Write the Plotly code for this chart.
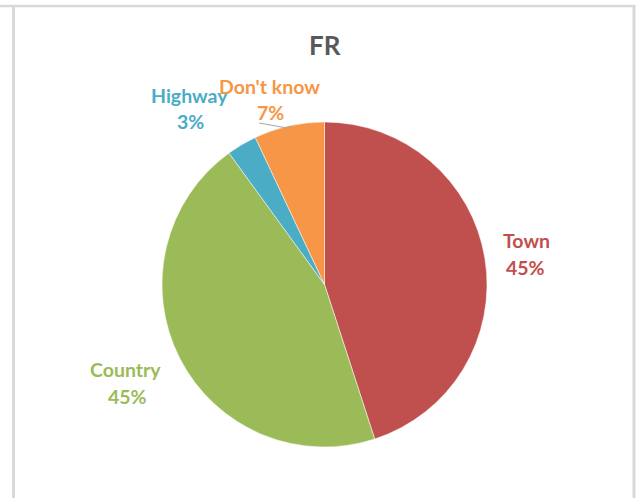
import plotly.graph_objects as go

# Data
categories = ["Town", "Country", "Highway", "Don't know"]
values = [45, 45, 3, 7]
colors = ["#C0504D", "#9BBB59", "#4BACC6", "#F79646"]
title_text = "FR"

W, H = 639, 498

def px(x):
    return x / W

def py(y):
    return 1 - y / H

# pie geometry (pixels)
cx, cy, r = 324.5, 284.5, 162.5

fig = go.Figure()
fig.add_trace(go.Pie(
    labels=categories,
    values=values,
    sort=False,
    direction="clockwise",
    rotation=0,
    marker=dict(colors=colors, line=dict(color="white", width=0.5)),
    textinfo="none",
    hoverinfo="label+percent",
    showlegend=False,
    domain=dict(x=[px(cx - r), px(cx + r)], y=[py(cy + r), py(cy - r)]),
))

# label annotation positions (pixel centres: name line, percent line)
label_pos = {
    "Town": ((526, 240), (525, 267)),
    "Country": ((126, 369), (127, 396)),
    "Highway": ((189, 96), (190, 121)),
    "Don't know": ((269, 87), (270, 112)),
}
total = sum(values)
font_family = "Lato, 'Open Sans', sans-serif"
for cat, val, col in zip(categories, values, colors):
    (x1, y1), (x2, y2) = label_pos[cat]
    for (x, y), t in (((x1, y1), cat), ((x2, y2), f"{round(100 * val / total)}%")):
        fig.add_annotation(
            x=px(x), y=py(y), xref="paper", yref="paper",
            text=f"<b>{t}</b>",
            showarrow=False, xanchor="center", yanchor="middle",
            font=dict(family=font_family, size=19.5, color=col),
        )

# title
fig.add_annotation(
    x=px(324.5), y=py(45), xref="paper", yref="paper",
    text=f"<b>{title_text}</b>", showarrow=False,
    xanchor="center", yanchor="middle",
    font=dict(family=font_family, size=26, color="#595959"),
)

# leader line for Don't know
fig.add_shape(type="path", xref="paper", yref="paper",
              path=f"M {px(259)} {py(123)} L {px(287)} {py(128)} L {px(292)} {py(126)}",
              line=dict(color="#A6A6A6", width=1))

# frame
frame_col = "#D9D9D9"
fig.add_shape(type="line", xref="paper", yref="paper",
              x0=0, x1=px(635), y0=py(6), y1=py(6), line=dict(color=frame_col, width=2.5))
fig.add_shape(type="line", xref="paper", yref="paper",
              x0=px(13.5), x1=px(13.5), y0=py(5), y1=0, line=dict(color=frame_col, width=3))
fig.add_shape(type="line", xref="paper", yref="paper",
              x0=px(634), x1=px(634), y0=py(5), y1=0, line=dict(color=frame_col, width=3))

fig.update_layout(
    width=W, height=H,
    margin=dict(l=0, r=0, t=0, b=0),
    paper_bgcolor="white", plot_bgcolor="white",
)

fig.write_html("out.html",
               config={"displayModeBar": False},
               post_script="document.body.style.margin='0';document.body.style.overflow='hidden';")
